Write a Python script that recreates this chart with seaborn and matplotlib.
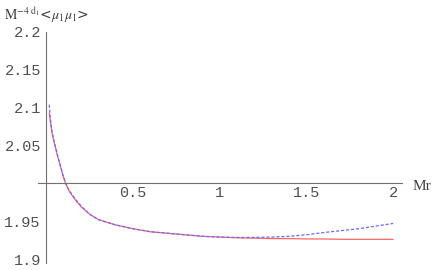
import numpy as np
import pandas as pd
import seaborn as sns
import matplotlib.pyplot as plt
from matplotlib.ticker import MultipleLocator

# values
mr = [0.016, 0.022, 0.03, 0.04, 0.05, 0.065, 0.08, 0.095, 0.11, 0.13, 0.16, 0.2,
      0.25, 0.3, 0.4, 0.5, 0.6, 0.7, 0.8, 0.9, 1.0, 1.1, 1.2, 1.3, 1.4, 1.5,
      1.6, 1.7, 1.8, 1.9, 2.0]
red_vals = [2.093, 2.082, 2.069, 2.058, 2.049, 2.035, 2.023, 2.010, 2.000, 1.990, 1.980, 1.969,
            1.959, 1.952, 1.945, 1.940, 1.936, 1.934, 1.932, 1.930, 1.929, 1.928, 1.9275, 1.927, 1.927, 1.9265,
            1.9265, 1.926, 1.926, 1.926, 1.926]
blue_vals = [2.104, 2.087, 2.072, 2.060, 2.050, 2.036, 2.024, 2.011, 2.001, 1.991, 1.981, 1.970,
             1.959, 1.952, 1.945, 1.940, 1.936, 1.934, 1.932, 1.930, 1.929, 1.9285, 1.9285, 1.929, 1.930, 1.932,
             1.935, 1.9375, 1.940, 1.9435, 1.947]

x_ticks = [0.5, 1, 1.5, 2]
x_labels = ["0.5", "1", "1.5", "2"]
y_ticks = [1.9, 1.95, 2.05, 2.1, 2.15, 2.2]
y_labels = ["1.9", "1.95", "2.05", "2.1", "2.15", "2.2"]

sns.set_style("white")
plt.rcParams["mathtext.fontset"] = "stix"

df = pd.DataFrame({"Mr": mr + mr,
                   "val": red_vals + blue_vals,
                   "curve": ["red"] * len(mr) + ["blue"] * len(mr)})

fig = plt.figure(figsize=(4.36, 2.70), dpi=100)
ax = fig.add_axes([0.0867, 0.0267, 0.835, 0.8548])

sns.lineplot(data=df[df.curve == "red"], x="Mr", y="val", ax=ax,
             color="#ff6464", linewidth=0.9, estimator=None, sort=False)
sns.lineplot(data=df[df.curve == "blue"], x="Mr", y="val", ax=ax,
             color="#6a6aff", linewidth=0.9, estimator=None, sort=False,
             dashes=False, linestyle=(0, (2.5, 1.5)))

ax.set_xlim(-0.05, 2.05)
ax.set_ylim(1.895, 2.2)

axis_col = "#707070"
for s in ["top", "right"]:
    ax.spines[s].set_visible(False)
ax.spines["left"].set_position(("data", 0))
ax.spines["bottom"].set_position(("data", 2.0))
ax.spines["left"].set_color(axis_col)
ax.spines["bottom"].set_color(axis_col)
ax.spines["left"].set_linewidth(0.8)
ax.spines["bottom"].set_linewidth(0.8)

ax.set_xticks(x_ticks)
ax.set_xticklabels(x_labels)
ax.set_yticks(y_ticks)
ax.set_yticklabels(y_labels)
ax.yaxis.set_minor_locator(MultipleLocator(0.01))

ax.tick_params(axis="both", which="major", direction="in", length=4, width=0.7,
               color=axis_col, labelcolor="#505050", labelsize=11)
ax.tick_params(axis="both", which="minor", direction="in", length=2, width=0.5,
               color=axis_col)
ax.tick_params(axis="y", pad=4)
ax.tick_params(axis="x", pad=2)
for lab in ax.get_xticklabels() + ax.get_yticklabels():
    lab.set_fontfamily("Liberation Mono")

ax.set_xlabel("")
ax.set_ylabel("")
ax.grid(False)

fig.text(4 / 436, 1 - 15 / 270, r"$\mathrm{M}^{-4\ \mathrm{d}_1}$<$\mu_1\mu_1$>",
         fontsize=10, color="#404040", va="center", ha="left")
fig.text(413 / 436, 1 - 186 / 270, "Mr", fontsize=11, family="Liberation Serif",
         color="#404040", va="center", ha="left")

fig.savefig("out.png", dpi=100)
